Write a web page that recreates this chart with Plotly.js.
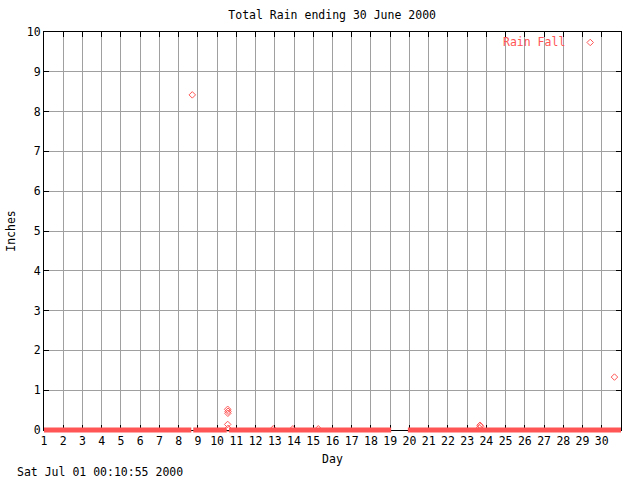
<!DOCTYPE html>
<html>
<head>
<meta charset="utf-8">
<script src="https://cdn.plot.ly/plotly-3.0.1.min.js"></script>
<style>html,body{margin:0;padding:0;background:#fff;}#chart{width:640px;height:480px;}</style>
</head>
<body>
<div id="chart"></div>
<script>
// Rain readings that rose above zero (day of month, inches)
const rainDays   = [8.71, 10.55, 10.57, 10.56, 10.55, 10.57, 12.92, 13.94, 15.26, 23.64, 23.67, 23.70, 30.66];
const rainInches = [8.42, 0.52,  0.47,  0.42,  0.14,  0.04,  0.03,  0.03,  0.03,  0.05,  0.12,  0.09,  1.33];
// Stretches of zero readings (start/end day, null = break)
const zeroDays   = [1.0, 8.66, null, 8.76, 10.50, null, 10.62, 19.05, null, 19.92, 31.0];
const zeroInches = [0, 0, null, 0, 0, null, 0, 0, null, 0, 0];
const dayTicks   = [1,2,3,4,5,6,7,8,9,10,11,12,13,14,15,16,17,18,19,20,21,22,23,24,25,26,27,28,29,30];
const inchTicks  = [0,1,2,3,4,5,6,7,8,9,10];
const titleText  = 'Total Rain ending 30 June 2000';
const legendText = 'Rain Fall';
const stampText  = 'Sat Jul 01 00:10:55 2000';

const RED = '#ff5555';
const FONT = 'DejaVu Sans Mono, monospace';
const FS = 11.5;

// geometry: plot area 32..436 px; main y axis sits 6px above the bottom so the
// thick zero band (drawn on a twin axis) is not clipped at the x axis line
const plotH = 480 - 32 - 44;
const lift = 6 / plotH;
const pxPerInch = (plotH - 6) / 10;

const traces = [
  {x: zeroDays, y: zeroInches, xaxis: 'x2', yaxis: 'y2', type: 'scatter', mode: 'lines',
   connectgaps: false, line: {color: RED, width: 5}, showlegend: false, hoverinfo: 'skip'},
  {x: rainDays, y: rainInches, type: 'scatter', mode: 'markers', name: ' ',
   marker: {symbol: 'diamond-open', size: 5, color: RED, line: {color: RED, width: 1}},
   showlegend: true, cliponaxis: false}
];

const axisCommon = {
  showline: true, linecolor: '#000', linewidth: 1, mirror: 'ticks',
  ticks: 'inside', ticklen: 5, tickcolor: '#000', tickwidth: 1,
  showgrid: true, gridcolor: '#a0a0a0', gridwidth: 1, zeroline: false,
  tickfont: {family: FONT, size: FS, color: '#000'}
};

const layout = {
  width: 640, height: 480,
  margin: {l: 44, r: 19, t: 32, b: 44, pad: 0},
  paper_bgcolor: '#fff', plot_bgcolor: 'rgba(0,0,0,0)',
  font: {family: FONT, size: FS, color: '#000'},
  title: {text: titleText, x: 0.519, xanchor: 'center', y: 0.968, yanchor: 'middle',
          font: {family: FONT, size: FS, color: '#000'}},
  xaxis: Object.assign({}, axisCommon, {
    range: [1, 31], anchor: 'y', tickmode: 'array', tickvals: dayTicks, ticktext: dayTicks.map(String),
    title: {text: 'Day', standoff: 8, font: {family: FONT, size: FS}}
  }),
  yaxis: Object.assign({}, axisCommon, {
    domain: [lift, 1], anchor: 'x',
    range: [0, 10], tickmode: 'array', tickvals: inchTicks, ticktext: inchTicks.map(String),
    title: {text: 'Inches', standoff: 8, font: {family: FONT, size: FS}}
  }),
  xaxis2: {range: [1, 31], anchor: 'y2', visible: false, showgrid: false, zeroline: false},
  yaxis2: {domain: [0, 1], range: [-6 / pxPerInch, 10], anchor: 'x2', visible: false,
           showgrid: false, zeroline: false},
  showlegend: true,
  legend: {
    x: 0.912, y: 1.01, xanchor: 'left', yanchor: 'top',
    bgcolor: 'rgba(0,0,0,0)', borderwidth: 0,
    font: {family: FONT, size: FS, color: RED}
  },
  annotations: [
    {text: legendText, xref: 'paper', yref: 'paper', x: 0.7915, y: 0.976,
     xanchor: 'left', yanchor: 'middle', showarrow: false,
     font: {family: FONT, size: FS, color: RED}},
    {text: stampText, xref: 'paper', yref: 'paper', x: -0.05, y: -0.088,
     xanchor: 'left', yanchor: 'middle', showarrow: false,
     font: {family: FONT, size: FS, color: '#000'}}
  ]
};

Plotly.newPlot('chart', traces, layout, {displayModeBar: false, staticPlot: true});
</script>
</body>
</html>
